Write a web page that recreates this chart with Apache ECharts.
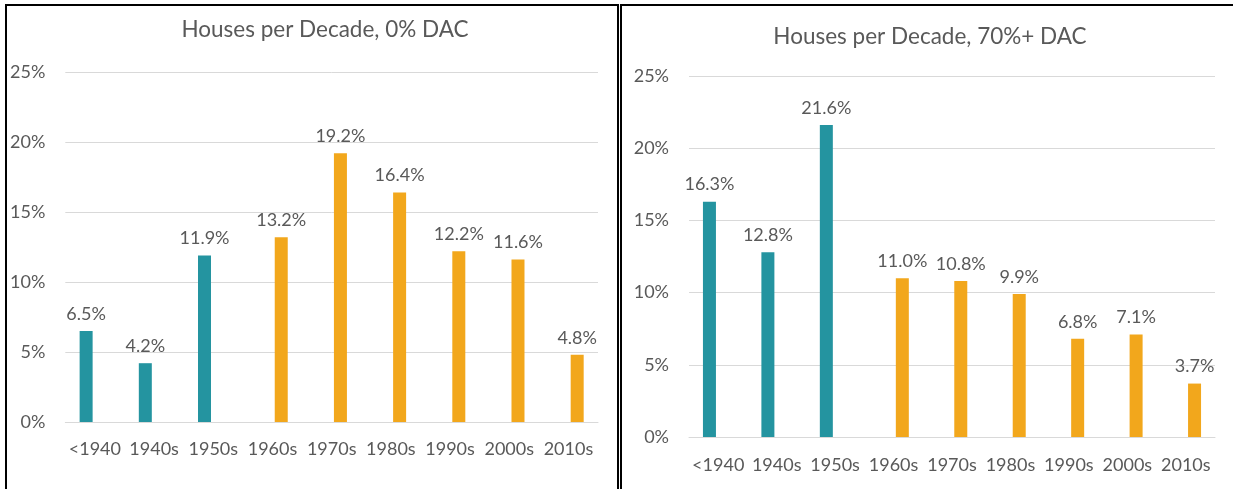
<!DOCTYPE html>
<html>
<head>
<meta charset="utf-8">
<script src="https://cdn.jsdelivr.net/npm/echarts@6/dist/echarts.min.js"></script>
<style>
  body { margin: 0; background: #fff; width: 1233px; height: 489px; overflow: hidden; position: relative; }
  .frame { position: absolute; top: 4px; border: 2px solid #000; background: #fff; }
  #left { left: 5px; width: 610px; height: 500px; }
  #right { left: 620px; width: 620px; height: 500px; }
  .chart { width: 100%; height: 100%; }
</style>
</head>
<body>
<div class="frame" id="left"><div class="chart" id="chartLeft"></div></div>
<div class="frame" id="right"><div class="chart" id="chartRight"></div></div>
<script>
var categories = ["<1940", "1940s", "1950s", "1960s", "1970s", "1980s", "1990s", "2000s", "2010s"]
var yTicks = [0, 5, 10, 15, 20, 25]

// share of houses per decade, %
var dac0Early = [6.5, 4.2, 11.9, null, null, null, null, null, null]
var dac0Late = [null, null, null, 13.2, 19.2, 16.4, 12.2, 11.6, 4.8]
var dac70Early = [16.3, 12.8, 21.6, null, null, null, null, null, null]
var dac70Late = [null, null, null, 11.0, 10.8, 9.9, 6.8, 7.1, 3.7]

var teal = "#2494a0"
var orange = "#f2a71c"
var textColor = "#595959"
var font = "Lato, 'Open Sans', sans-serif"

function makeOption(title, titleX, titleTop, grid, labelMargin, early, late) {
  var barLabel = {
    show: true,
    position: "top",
    distance: 8,
    color: textColor,
    fontSize: 18,
    fontFamily: font,
    formatter: function (p) {
      return p.value.toFixed(1) + "%"
    }
  }
  return {
    animation: false,
    title: {
      text: title,
      left: titleX,
      top: titleTop,
      textAlign: "center",
      textStyle: { color: textColor, fontSize: 22.5, fontWeight: "normal", fontFamily: font }
    },
    grid: grid,
    xAxis: {
      type: "category",
      data: categories,
      axisTick: { show: false },
      axisLine: { lineStyle: { color: "#d9d9d9", width: 1 } },
      axisLabel: { color: textColor, fontSize: 18, fontFamily: font, margin: labelMargin, interval: 0 }
    },
    yAxis: {
      type: "value",
      min: yTicks[0],
      max: yTicks[yTicks.length - 1],
      interval: 5,
      axisLine: { show: false },
      axisTick: { show: false },
      splitLine: { lineStyle: { color: "#d9d9d9", width: 1 } },
      axisLabel: { color: textColor, fontSize: 18, fontFamily: font, margin: 20, formatter: "{value}%" }
    },
    series: [
      {
        type: "bar",
        data: early,
        barWidth: 13,
        barGap: "35%",
        itemStyle: { color: teal },
        label: barLabel
      },
      {
        type: "bar",
        data: late,
        barWidth: 13,
        barGap: "35%",
        itemStyle: { color: orange },
        label: barLabel
      }
    ]
  }
}

var leftChart = echarts.init(document.getElementById("chartLeft"))
leftChart.setOption(makeOption("Houses per Decade, 0% DAC", 313, 7,
  { left: 58, top: 66, width: 533, height: 350 }, 18, dac0Early, dac0Late))

var rightChart = echarts.init(document.getElementById("chartRight"))
rightChart.setOption(makeOption("Houses per Decade, 70%+ DAC", 303, 14,
  { left: 67, top: 70, width: 526, height: 361 }, 19, dac70Early, dac70Late))
</script>
</body>
</html>
